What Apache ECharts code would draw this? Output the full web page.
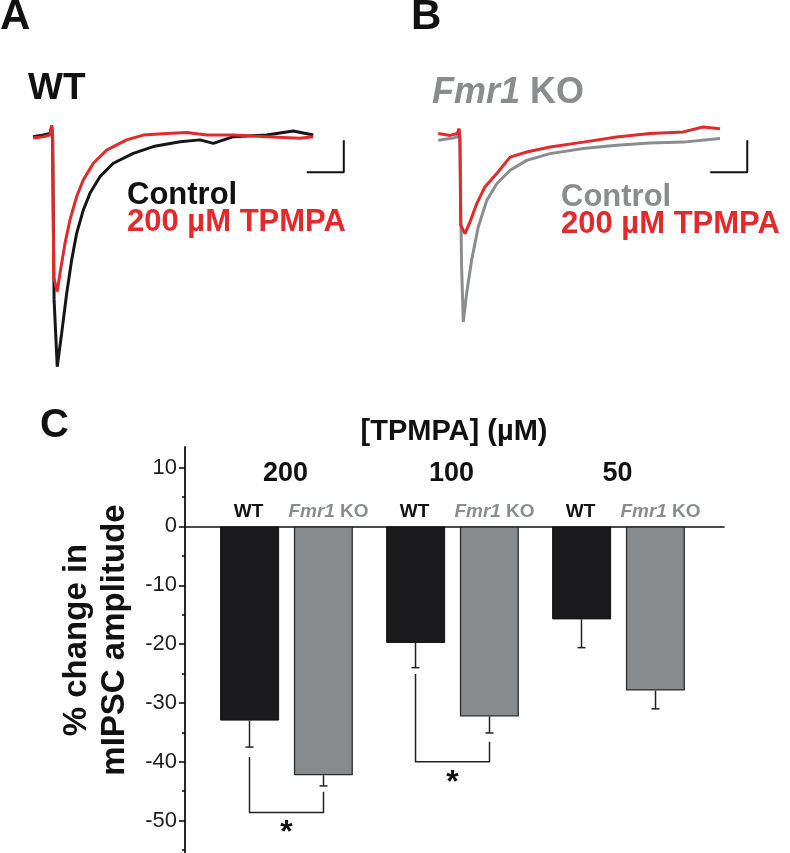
<!DOCTYPE html>
<html><head><meta charset="utf-8">
<script src="https://cdn.jsdelivr.net/npm/echarts@6/dist/echarts.min.js"></script>
<style>html,body{margin:0;padding:0;background:#fff}#c{width:790px;height:853px}</style>
</head><body><div id="c"></div>
<script>
// ---- Panel A/B traces: [time (ms), current (pA)] ----
const wtControl = [[0,0.1],[5.6,0.6],[9.2,1.1],[10.1,3.4],[10.6,-0.9],[11.4,-50.9],[13.1,-71.8],[15.5,-61.3],[18.2,-48.9],[20.9,-38.4],[23.6,-30.1],[27.2,-22.8],[30.8,-17.6],[36.2,-12.4],[43.4,-8.2],[54.2,-5.1],[65.0,-3.0],[79.5,-1.5],[90.3,-0.9],[97.5,-2.0],[108.3,0.1],[126.3,0.6],[140.7,1.9],[151.5,0.6]];
const wtTpmpa = [[0,-0.3],[5.6,0.1],[9.2,0.6],[10.1,3.7],[10.6,1.1],[11.2,-44.0],[13.1,-48.3],[14.6,-42.6],[17.3,-33.2],[20.0,-25.9],[23.6,-18.6],[27.2,-13.4],[32.6,-8.2],[39.8,-4.1],[50.6,-0.9],[59.6,0.6],[72.3,1.1],[83.1,1.4],[93.9,0.6],[108.3,0.6],[126.3,0.1],[144.3,-0.4],[151.5,0.1]];
const koControl = [[0,-1.0],[6.3,-0.5],[10.3,0],[11.2,2.6],[11.7,-1.5],[12.6,-40.6],[13.5,-57.8],[15.3,-48.9],[18.0,-38.5],[21.6,-28.1],[26.2,-19.8],[31.6,-14.6],[38.8,-10.4],[47.8,-7.3],[60.4,-5.2],[78.4,-3.6],[96.4,-2.6],[114.4,-1.9],[132.4,-1.6],[152.3,-0.5]];
const koTpmpa = [[0,1.1],[6.3,0.5],[10.3,1.1],[11.2,2.6],[11.7,-1.0],[12.1,-27.5],[14.4,-30.2],[17.1,-26.6],[20.8,-20.8],[25.2,-15.6],[31.6,-11.4],[38.8,-6.3],[47.8,-4.7],[60.4,-3.1],[78.4,-1.6],[96.4,0],[114.4,1.1],[132.4,1.6],[143.2,3.1],[152.3,2.6]];
const scaleBarMs = 20;   // horizontal scale bar
const scaleBarPA = 10;   // vertical scale bar

// ---- Panel C bars: % change in mIPSC amplitude ----
const concentrations = ['200', '100', '50'];
const wtChange = [-33.0, -19.8, -15.8];
const wtSem = [4.5, 4.2, 4.8];
const koChange = [-42.3, -32.3, -27.9];
const koSem = [1.8, 2.8, 3.1];
const yMajorTicks = [10, 0, -10, -20, -30, -40, -50];
const yMinorTicks = [5, -5, -15, -25, -35, -45, -55];
// significance brackets: group index, left leg top, right leg top, bracket level
const sigGroup = [0, 1];
const sigLeftTop = [-39.2, -25.1];
const sigRightTop = [-45.1, -36.6];
const sigLevel = [-48.6, -40.0];

const FONT = '"Liberation Sans", Arial, sans-serif';
const RED = '#e2292b';
const GRAY = '#8a8d90';
const DARK = '#161616';

const chart = echarts.init(document.getElementById('c'), null, {renderer: 'canvas'});

const Y_MIN = -55.5, Y_MAX = 13.5;
const BAR_W = 59, HALF = 37;

function traceLine(data, color, xi, z) {
  return {type: 'line', xAxisIndex: xi, yAxisIndex: xi, data: data, showSymbol: false, silent: true, z: z,
    lineStyle: {color: color, width: 3}, animation: false};
}
function scaleBar(xi, cornerT) {
  return {type: 'line', xAxisIndex: xi, yAxisIndex: xi, showSymbol: false, silent: true, animation: false,
    data: [[cornerT - scaleBarMs, -11], [cornerT, -11], [cornerT, -11 + scaleBarPA]],
    lineStyle: {color: '#111', width: 2}};
}
function errRender(offset) {
  return function (params, api) {
    const c = api.coord([api.value(0), api.value(1)]);
    const e = api.coord([api.value(0), api.value(1) - api.value(2)]);
    const x = c[0] + offset;
    return {type: 'group', children: [
      {type: 'line', shape: {x1: x, y1: c[1], x2: x, y2: e[1]}, style: {stroke: '#222', lineWidth: 1.5}},
      {type: 'line', shape: {x1: x - 4, y1: e[1], x2: x + 4, y2: e[1]}, style: {stroke: '#222', lineWidth: 1.5}}
    ]};
  };
}

const option = {
  animation: false,
  backgroundColor: '#fff',
  grid: [
    {left: 33, top: 105, width: 314.5, height: 288},
    {left: 438.3, top: 105, width: 314.5, height: 288},
    {left: 203.5, top: 447, width: 498, height: (Y_MAX - Y_MIN) * 5.92},
    {left: 185, top: 447, width: 539, height: (Y_MAX - Y_MIN) * 5.92}
  ],
  xAxis: [
    {gridIndex: 0, type: 'value', min: 0, max: 170, show: false},
    {gridIndex: 1, type: 'value', min: 0, max: 170, show: false},
    {gridIndex: 2, type: 'category', data: concentrations, show: false},
    {gridIndex: 3, type: 'value', min: 0, max: 1, axisLine: {show: true, onZero: true, lineStyle: {color: '#111', width: 1.6}},
      axisTick: {show: false}, axisLabel: {show: false}, splitLine: {show: false}}
  ],
  yAxis: [
    {gridIndex: 0, type: 'value', min: -80, max: 10, show: false},
    {gridIndex: 1, type: 'value', min: -80, max: 10, show: false},
    {gridIndex: 2, type: 'value', min: Y_MIN, max: Y_MAX, show: false},
    {gridIndex: 3, type: 'value', position: 'left', min: Y_MIN, max: Y_MAX,
      axisLine: {show: true, lineStyle: {color: '#111', width: 1.8}},
      axisTick: {show: true, length: 6, customValues: yMajorTicks, lineStyle: {color: '#111', width: 1.6}},
      axisLabel: {show: true, customValues: yMajorTicks, margin: 8, fontFamily: FONT, fontSize: 22, color: '#1e1e1e'},
      splitLine: {show: false}},
    {gridIndex: 3, type: 'value', position: 'left', min: Y_MIN, max: Y_MAX,
      axisLine: {show: false},
      axisTick: {show: true, length: 3, customValues: yMinorTicks, lineStyle: {color: '#111', width: 1.6}},
      axisLabel: {show: false}, splitLine: {show: false}}
  ],
  series: [
    traceLine(wtControl, DARK, 0, 2),
    traceLine(wtTpmpa, RED, 0, 3),
    scaleBar(0, 168),
    traceLine(koControl, GRAY, 1, 2),
    traceLine(koTpmpa, RED, 1, 3),
    scaleBar(1, 167),
    {type: 'bar', name: 'WT', xAxisIndex: 2, yAxisIndex: 2, data: wtChange, barWidth: BAR_W, barGap: '25%',
      itemStyle: {color: '#1a1a1c', borderColor: '#111', borderWidth: 1}, z: 2},
    {type: 'bar', name: 'Fmr1 KO', xAxisIndex: 2, yAxisIndex: 2, data: koChange, barWidth: BAR_W, barGap: '25%',
      itemStyle: {color: '#878b8e', borderColor: '#2a2a2a', borderWidth: 1.3}, z: 2},
    {type: 'custom', xAxisIndex: 2, yAxisIndex: 2, z: 3, renderItem: errRender(-HALF),
      data: wtChange.map((v, i) => [i, v, wtSem[i]])},
    {type: 'custom', xAxisIndex: 2, yAxisIndex: 2, z: 3, renderItem: errRender(HALF),
      data: koChange.map((v, i) => [i, v, koSem[i]])},
    {type: 'custom', xAxisIndex: 2, yAxisIndex: 2, z: 4,
      data: sigGroup.map((g, i) => [g, sigLeftTop[i], sigRightTop[i], sigLevel[i]]),
      renderItem: function (params, api) {
        const g = api.value(0);
        const lt = api.coord([g, api.value(1)]);
        const rt = api.coord([g, api.value(2)]);
        const lv = api.coord([g, api.value(3)]);
        const xl = lt[0] - HALF, xr = lt[0] + HALF;
        return {type: 'group', children: [
          {type: 'polyline', shape: {points: [[xl, lt[1]], [xl, lv[1]], [xr, lv[1]], [xr, rt[1]]]},
            style: {stroke: '#222', lineWidth: 1.5, fill: null}},
          {type: 'text', x: lt[0], y: lv[1] + 5, style: {text: '*', font: 'bold 32px ' + FONT, fill: '#111', align: 'center', verticalAlign: 'top'}}
        ]};
      }},
    {type: 'custom', xAxisIndex: 2, yAxisIndex: 2, z: 4,
      data: concentrations.map((c, i) => [i]),
      renderItem: function (params, api) {
        const i = api.value(0);
        const c = api.coord([i, 0]);
        return {type: 'group', children: [
          {type: 'text', x: c[0] - 1, y: c[1] - 53, style: {text: concentrations[i], font: 'bold 27px ' + FONT, fill: '#111', align: 'center', verticalAlign: 'middle'}},
          {type: 'text', x: c[0] - HALF - 1, y: c[1] - 15, style: {text: 'WT', font: 'bold 19px ' + FONT, fill: '#111', align: 'center', verticalAlign: 'middle'}},
          {type: 'text', x: c[0] + HALF + 5, y: c[1] - 15, style: {
            text: '{i|Fmr1}{n| KO}', align: 'center', verticalAlign: 'middle',
            rich: {
              i: {fontFamily: FONT, fontWeight: 'bold', fontStyle: 'italic', fontSize: 19, fill: GRAY, color: GRAY},
              n: {fontFamily: FONT, fontWeight: 'bold', fontSize: 19, fill: GRAY, color: GRAY}
            }}}
        ]};
      }}
  ],
  graphic: [
    {type: 'text', left: 0, top: -4, style: {text: 'A', font: 'bold 42px ' + FONT, fill: '#111'}},
    {type: 'text', left: 411, top: -4, style: {text: 'B', font: 'bold 42px ' + FONT, fill: '#111'}},
    {type: 'text', left: 40, top: 406, style: {text: 'C', font: 'bold 40px ' + FONT, fill: '#111'}},
    {type: 'text', left: 28, top: 70, style: {text: 'WT', font: 'bold 37px ' + FONT, fill: '#111'}},
    {type: 'text', left: 432, top: 75, style: {
      text: '{i|Fmr1}{n| KO}',
      rich: {
        i: {fontFamily: FONT, fontWeight: 'bold', fontStyle: 'italic', fontSize: 36, fill: GRAY, color: GRAY},
        n: {fontFamily: FONT, fontWeight: 'bold', fontSize: 36, fill: GRAY, color: GRAY}
      }}},
    {type: 'text', left: 127, top: 180, style: {text: 'Control', font: 'bold 31px ' + FONT, fill: '#111'}},
    {type: 'text', left: 127, top: 207, style: {text: '200 µM TPMPA', font: 'bold 31px ' + FONT, fill: RED}},
    {type: 'text', left: 561, top: 182, style: {text: 'Control', font: 'bold 31px ' + FONT, fill: GRAY}},
    {type: 'text', left: 561, top: 209, style: {text: '200 µM TPMPA', font: 'bold 31px ' + FONT, fill: RED}},
    {type: 'text', x: 454, y: 432, style: {text: '[TPMPA] (µM)', font: 'bold 29px ' + FONT, fill: '#111', align: 'center', verticalAlign: 'middle'}},
    {type: 'text', x: 96, y: 640, rotation: Math.PI / 2, style: {
      text: '% change in\nmIPSC amplitude', font: 'bold 33px ' + FONT, fill: '#111',
      align: 'center', verticalAlign: 'middle', lineHeight: 38}}
  ]
};
chart.setOption(option);
</script>
</body></html>
